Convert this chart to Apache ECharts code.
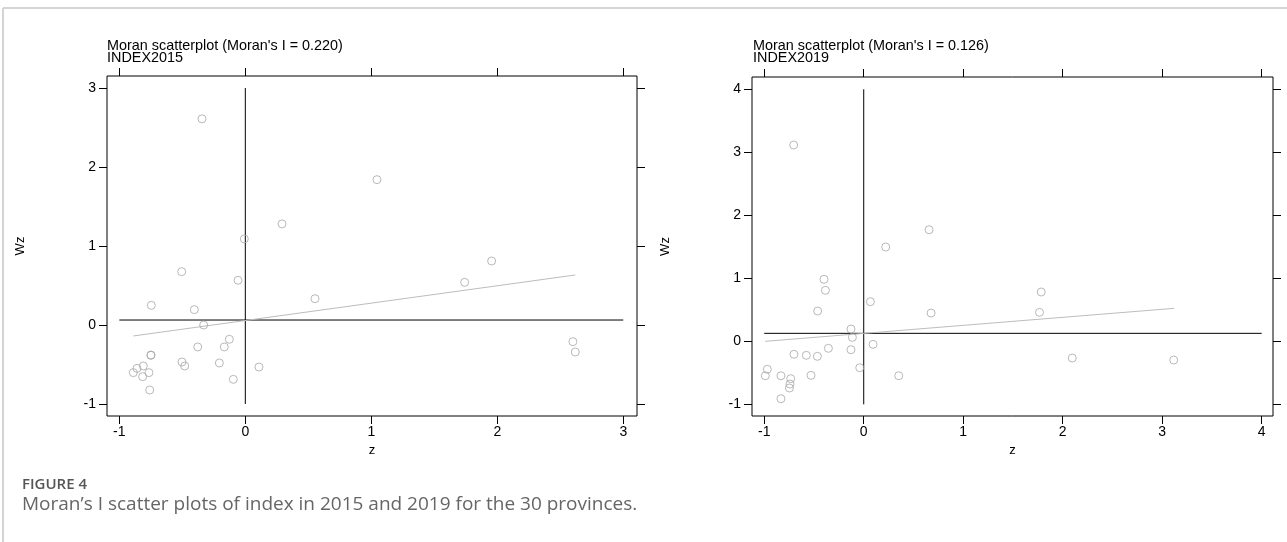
<!DOCTYPE html>
<html>
<head>
<meta charset="utf-8">
<script src="https://cdn.jsdelivr.net/npm/echarts@6/dist/echarts.min.js"></script>
<style>
html,body{margin:0;padding:0;background:#fff;}
#chart{width:1287px;height:542px;}
</style>
</head>
<body>
<div id="chart"></div>
<script>
// ---- data ----
const xTicks2015 = [-1, 0, 1, 2, 3];
const yTicks2015 = [-1, 0, 1, 2, 3];
const xTicks2019 = [-1, 0, 1, 2, 3, 4];
const yTicks2019 = [-1, 0, 1, 2, 3, 4];

const z2015  = [-0.344, 0.291, -0.008, -0.505, -0.058, 1.045, 1.955, -0.746, -0.405, -0.331, 0.553, -0.127, -0.378, -0.167, -0.749, -0.749, -0.503, -0.481, -0.206, 0.108, -0.095, -0.810, -0.860, -0.889, -0.765, -0.815, -0.759, 1.741, 2.600, 2.619];
const wz2015 = [2.610, 1.280, 1.090, 0.675, 0.566, 1.840, 0.810, 0.249, 0.194, 0.000, 0.333, -0.181, -0.278, -0.278, -0.384, -0.380, -0.468, -0.519, -0.481, -0.532, -0.688, -0.519, -0.549, -0.603, -0.603, -0.654, -0.823, 0.540, -0.211, -0.342];

const z2019  = [-0.704, 0.221, 0.657, -0.399, -0.385, -0.463, 0.067, 0.677, -0.128, -0.114, 0.094, -0.355, -0.128, -0.701, -0.577, -0.466, -0.040, -0.530, 0.352, -0.969, -0.989, -0.832, -0.734, -0.741, -0.747, -0.832, 1.784, 1.767, 2.096, 3.116];
const wz2019 = [3.116, 1.497, 1.771, 0.984, 0.810, 0.481, 0.629, 0.449, 0.195, 0.063, -0.048, -0.111, -0.133, -0.206, -0.222, -0.238, -0.419, -0.540, -0.546, -0.444, -0.546, -0.546, -0.593, -0.678, -0.741, -0.911, 0.783, 0.460, -0.265, -0.297];

const vLine2015 = [[0, -1], [0, 3]];
const hLine2015 = [[-1, 0.063], [3, 0.063]];
const fit2015   = [[-0.889, -0.139], [2.619, 0.633]];

const vLine2019 = [[0, -1], [0, 4]];
const hLine2019 = [[-1, 0.127], [4, 0.127]];
const fit2019   = [[-0.990, 0.000], [3.122, 0.524]];

const title2015 = "Moran scatterplot (Moran's I = 0.220)\nINDEX2015";
const title2019 = "Moran scatterplot (Moran's I = 0.126)\nINDEX2019";
const figLabel = "FIGURE 4";
const figCaption = "Moran\u2019s I scatter plots of index in 2015 and 2019 for the 30 provinces.";

// ---- chart ----
const FONT = "'Liberation Sans', Arial, sans-serif";
const pair = (xs, ys) => xs.map((x, i) => [x, ys[i]]);

function xAx(grid, pos, ticks, min, max, showLabel) {
  return {
    type: 'value', gridIndex: grid, position: pos, min: min, max: max,
    name: showLabel ? 'z' : '', nameLocation: 'middle', nameGap: 19,
    nameTextStyle: {fontFamily: FONT, fontSize: 13, color: '#000'},
    axisLine: {show: false, onZero: false},
    splitLine: {show: false},
    axisTick: {show: true, inside: false, length: 8, lineStyle: {color: '#000', width: 1}, customValues: ticks},
    axisLabel: {show: showLabel, customValues: ticks, margin: 9, fontFamily: FONT, fontSize: 14, color: '#000'}
  };
}
function yAx(grid, pos, ticks, min, max, showLabel) {
  return {
    type: 'value', gridIndex: grid, position: pos, min: min, max: max,
    name: showLabel ? 'Wz' : '', nameLocation: 'middle', nameGap: 80, nameRotate: 90,
    nameTextStyle: {fontFamily: FONT, fontSize: 13, color: '#000'},
    axisLine: {show: false, onZero: false},
    splitLine: {show: false},
    axisTick: {show: true, inside: false, length: 8, lineStyle: {color: '#000', width: 1}, customValues: ticks},
    axisLabel: {show: showLabel, customValues: ticks, margin: 11, fontFamily: FONT, fontSize: 14, color: '#000'}
  };
}
function scatter(xi, yi, data) {
  return {
    type: 'scatter', xAxisIndex: xi, yAxisIndex: yi, data: data,
    symbol: 'circle', symbolSize: 8,
    itemStyle: {color: 'rgba(255,255,255,0)', borderColor: '#a8a8a8', borderWidth: 1},
    silent: true, z: 3
  };
}
function line(xi, yi, data, color) {
  return {
    type: 'line', xAxisIndex: xi, yAxisIndex: yi, data: data,
    showSymbol: false, symbol: 'none',
    lineStyle: {color: color, width: 1}, silent: true, z: 2
  };
}

const titleStyle = {fontFamily: FONT, fontSize: 14.4, fontWeight: 'normal', color: '#000', lineHeight: 12};

const chart = echarts.init(document.getElementById('chart'), null, {renderer: 'canvas'});
chart.setOption({
  animation: false,
  backgroundColor: '#fff',
  title: [
    {text: title2015, left: 107, top: 40, padding: 0, textStyle: titleStyle},
    {text: title2019, left: 753, top: 40, padding: 0, textStyle: titleStyle},
    {text: figLabel, left: 22, top: 477, padding: 0, textStyle: {fontFamily: "'Open Sans', sans-serif", fontSize: 15, fontWeight: 600, color: '#555'}},
    {text: figCaption, left: 22, top: 495, padding: 0, textStyle: {fontFamily: "'Open Sans', sans-serif", fontSize: 19, fontWeight: 'normal', color: '#666'}}
  ],
  graphic: [
    {type: 'line', shape: {x1: 3, y1: 8, x2: 1287, y2: 8}, style: {stroke: '#d4d4d4', lineWidth: 2}, silent: true},
    {type: 'line', shape: {x1: 3, y1: 8, x2: 3, y2: 542}, style: {stroke: '#d4d4d4', lineWidth: 2}, silent: true}
  ],
  grid: [
    {left: 107, top: 76, width: 530, height: 340, show: true, borderColor: '#000', borderWidth: 1, backgroundColor: 'transparent'},
    {left: 752, top: 77, width: 521, height: 339, show: true, borderColor: '#000', borderWidth: 1, backgroundColor: 'transparent'}
  ],
  xAxis: [
    xAx(0, 'bottom', xTicks2015, -1.098, 3.109, true),
    xAx(0, 'top', xTicks2015, -1.098, 3.109, false),
    xAx(1, 'bottom', xTicks2019, -1.123, 4.114, true),
    xAx(1, 'top', xTicks2019, -1.123, 4.114, false)
  ],
  yAxis: [
    yAx(0, 'left', yTicks2015, -1.152, 3.152, true),
    yAx(0, 'right', yTicks2015, -1.152, 3.152, false),
    yAx(1, 'left', yTicks2019, -1.185, 4.195, true),
    yAx(1, 'right', yTicks2019, -1.185, 4.195, false)
  ],
  series: [
    line(0, 0, vLine2015, '#000'),
    line(0, 0, hLine2015, '#000'),
    line(0, 0, fit2015, '#bdbdbd'),
    scatter(0, 0, pair(z2015, wz2015)),
    line(2, 2, vLine2019, '#000'),
    line(2, 2, hLine2019, '#000'),
    line(2, 2, fit2019, '#bdbdbd'),
    scatter(2, 2, pair(z2019, wz2019))
  ]
});
</script>
</body>
</html>
